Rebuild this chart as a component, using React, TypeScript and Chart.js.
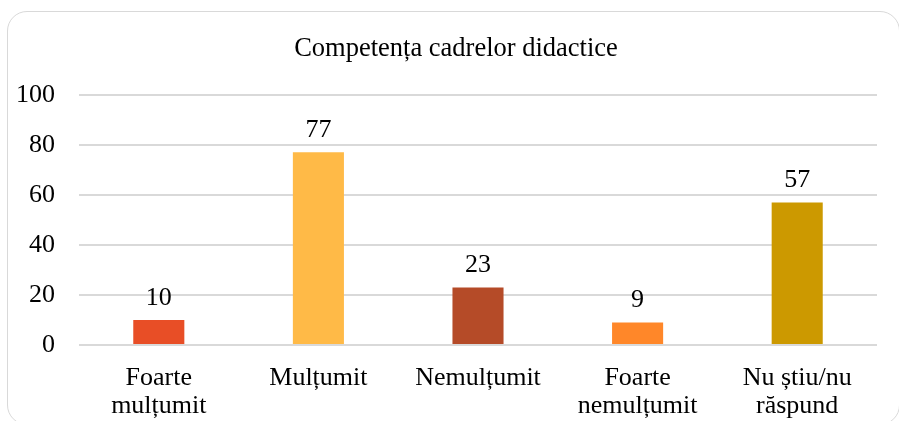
import React, { useEffect, useRef } from "react";
import { Chart, registerables } from "chart.js";

Chart.register(...registerables);

const categories: (string | string[])[] = [
  ["Foarte", "mulțumit"],
  "Mulțumit",
  "Nemulțumit",
  ["Foarte", "nemulțumit"],
  ["Nu știu/nu", "răspund"],
];
const values: number[] = [10, 77, 23, 9, 57];
const barColors: string[] = ["#E84E26", "#FFBA47", "#B54B28", "#FF8729", "#CC9900"];
const titleText = "Competența cadrelor didactice";
const yMin = 0;
const yMax = 100;
const yStep = 20;

const FONT = "'Liberation Serif', 'Times New Roman', serif";

const dataLabels = {
  id: "dataLabels",
  afterDatasetsDraw(chart: any) {
    const { ctx } = chart;
    const meta = chart.getDatasetMeta(0);
    ctx.save();
    ctx.font = `26px ${FONT}`;
    ctx.fillStyle = "#000000";
    ctx.textAlign = "center";
    ctx.textBaseline = "alphabetic";
    meta.data.forEach((bar: any, i: number) => {
      ctx.fillText(String(values[i]), bar.x, bar.y - 15);
    });
    ctx.restore();
  },
};

const shiftTitle = {
  id: "shiftTitle",
  afterLayout(chart: any) {
    const t = chart.titleBlock;
    if (t) {
      t.left = 35;
      t.width = t.right - t.left;
    }
  },
};

export default function App() {
  const ref = useRef<HTMLCanvasElement | null>(null);
  useEffect(() => {
    if (!ref.current) return;
    const chart = new Chart(ref.current, {
      type: "bar",
      data: {
        labels: categories,
        datasets: [
          {
            data: values,
            backgroundColor: barColors,
            borderWidth: 0,
            barPercentage: 0.32,
            categoryPercentage: 1,
          },
        ],
      },
      options: {
        animation: false,
        responsive: false,
        maintainAspectRatio: false,
        layout: { padding: { left: 0, right: 22, top: 0, bottom: 0 } },
        plugins: {
          legend: { display: false },
          tooltip: { enabled: false },
          title: {
            display: true,
            text: titleText,
            color: "#000000",
            font: { family: FONT, size: 26.5, weight: "normal", lineHeight: 1.2 },
            padding: { top: 33, bottom: 30 },
          },
        },
        scales: {
          x: {
            grid: { display: false, drawTicks: false },
            border: { display: false },
            ticks: {
              color: "#000000",
              font: { family: FONT, size: 26, lineHeight: 1.08 },
              padding: 19,
              maxRotation: 0,
              autoSkip: false,
            },
            afterFit(scale: any) {
              scale.height = 76;
            },
          },
          y: {
            min: yMin,
            max: yMax,
            grid: { color: "#D9D9D9", lineWidth: 2, drawTicks: false },
            border: { display: false },
            ticks: {
              stepSize: yStep,
              color: "#000000",
              font: { family: FONT, size: 26 },
              padding: 24,
            },
            afterFit(scale: any) {
              scale.width = 79;
            },
          },
        },
      },
      plugins: [dataLabels, shiftTitle],
    });
    return () => chart.destroy();
  }, []);

  return (
    <div style={{ position: "fixed", left: 0, top: 0, width: 899, height: 421, overflow: "hidden", background: "#ffffff" }}>
      <div
        style={{
          position: "absolute",
          left: 7,
          top: 11,
          width: 893,
          height: 414,
          border: "1.5px solid #D9D9D9",
          borderRadius: 20,
          boxSizing: "border-box",
        }}
      />
      <canvas ref={ref} width={899} height={421} style={{ position: "absolute", left: 0, top: 0, width: 899, height: 421 }} />
    </div>
  );
}
